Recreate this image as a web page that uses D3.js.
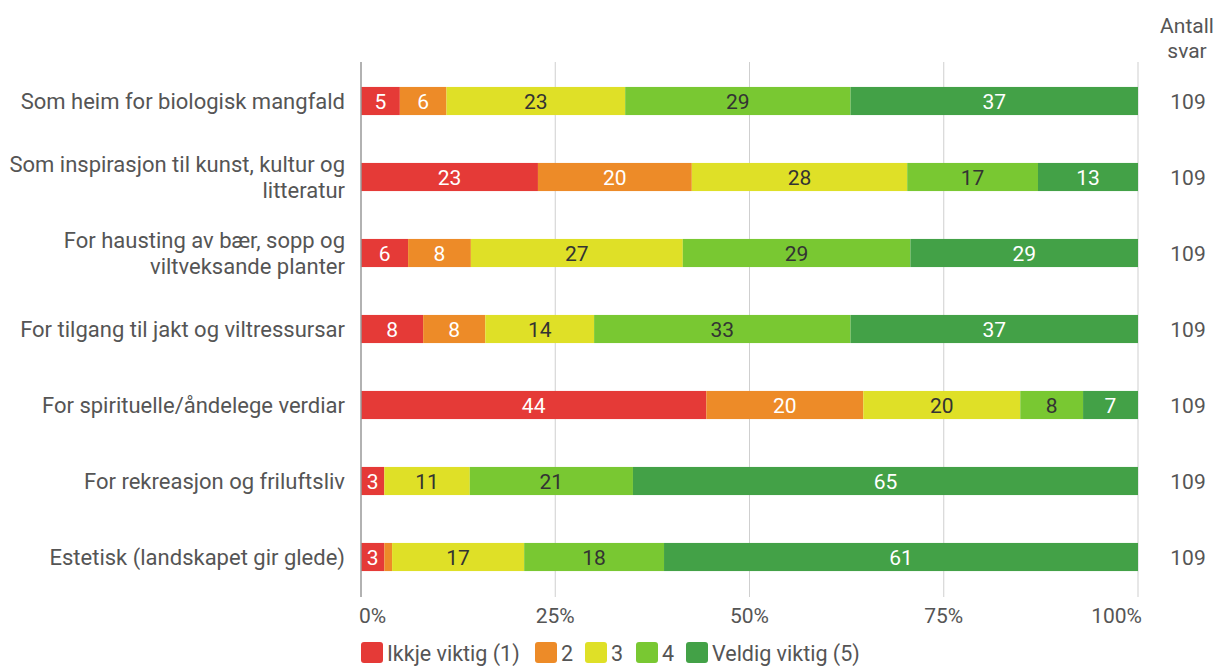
<!DOCTYPE html>
<html>
<head>
<meta charset="utf-8">
<script src="https://cdn.jsdelivr.net/npm/d3@7"></script>
<style>
  body { margin: 0; background: #fff; }
  text { font-family: Roboto, "Open Sans", sans-serif; }
</style>
</head>
<body>
<div id="chart"></div>
<script>
// categories, top to bottom
var categories = [
    ['Som heim for biologisk mangfald'],
    ['Som inspirasjon til kunst, kultur og', 'litteratur'],
    ['For hausting av bær, sopp og', 'viltveksande planter'],
    ['For tilgang til jakt og viltressursar'],
    ['For spirituelle/åndelege verdiar'],
    ['For rekreasjon og friluftsliv'],
    ['Estetisk (landskapet gir glede)']
];
var seriesNames = ['Ikkje viktig (1)', '2', '3', '4', 'Veldig viktig (5)'];
var ikkjeViktig = [5, 23, 6, 8, 44, 3, 3];
var score2 = [6, 20, 8, 8, 20, 0, 1];
var score3 = [23, 28, 27, 14, 20, 11, 17];
var score4 = [29, 17, 29, 33, 8, 21, 18];
var veldigViktig = [37, 13, 29, 37, 7, 65, 61];
var antallSvar = [109, 109, 109, 109, 109, 109, 109];
var tickValues = [0, 0.25, 0.5, 0.75, 1];

var colors = ['#e53a37', '#ed8b28', '#dfe027', '#79c832', '#43a147'];
var textColors = ['#fff', '#fff', '#333', '#333', '#fff'];

var width = 1219, height = 666;
var svg = d3.select('#chart').append('svg')
    .attr('width', width)
    .attr('height', height);

var x = d3.scaleLinear().domain([0, 1]).range([361, 1138]);
var y = d3.scaleBand().domain(d3.range(categories.length)).range([63, 595]).paddingInner(0.63).paddingOuter(0.315);

// build stacked rows (normalised to 100%)
var seriesVals = [ikkjeViktig, score2, score3, score4, veldigViktig];
var rows = categories.map(function (c, i) {
    var total = d3.sum(seriesVals, function (s) { return s[i]; });
    var acc = 0;
    return seriesVals.map(function (s, k) {
        var seg = { row: i, k: k, v: s[i], x0: acc / total, x1: (acc + s[i]) / total };
        acc += s[i];
        return seg;
    });
});

// gridlines
svg.append('g').selectAll('line')
    .data(tickValues.slice(1))
    .enter().append('line')
    .attr('x1', function (d) { return x(d); })
    .attr('x2', function (d) { return x(d); })
    .attr('y1', 62).attr('y2', 597)
    .attr('stroke', '#cfcfcf').attr('stroke-width', 1);

// tick labels: first left-aligned, last right-aligned
svg.append('g').selectAll('text')
    .data(tickValues)
    .enter().append('text')
    .attr('x', function (d) { return d === 0 ? x(d) - 2 : d === 1 ? x(d) + 4 : x(d); })
    .attr('y', 623)
    .attr('text-anchor', function (d) { return d === 0 ? 'start' : d === 1 ? 'end' : 'middle'; })
    .attr('font-size', 21)
    .attr('fill', '#555')
    .text(function (d) { return Math.round(d * 100) + '%'; });

// bars
var g = svg.append('g');
rows.forEach(function (segs) {
    var rg = g.append('g');
    rg.selectAll('rect')
        .data(segs.filter(function (d) { return d.v > 0; }))
        .enter().append('rect')
        .attr('x', function (d) { return x(d.x0); })
        .attr('width', function (d) { return x(d.x1) - x(d.x0); })
        .attr('y', function (d) { return y(d.row); })
        .attr('height', y.bandwidth())
        .attr('fill', function (d) { return colors[d.k]; });
    rg.selectAll('text')
        .data(segs.filter(function (d) { return d.v > 1; }))
        .enter().append('text')
        .attr('x', function (d) { return (x(d.x0) + x(d.x1)) / 2; })
        .attr('y', function (d) { return y(d.row) + y.bandwidth() / 2; })
        .attr('dy', '0.36em')
        .attr('text-anchor', 'middle')
        .attr('font-size', 21)
        .attr('fill', function (d) { return textColors[d.k]; })
        .text(function (d) { return d.v; });
});

// zero axis line
svg.append('line')
    .attr('x1', x(0)).attr('x2', x(0))
    .attr('y1', 62).attr('y2', 597)
    .attr('stroke', '#999').attr('stroke-width', 1.5);

// category labels
var lab = svg.append('g').selectAll('text')
    .data(categories)
    .enter().append('text')
    .attr('text-anchor', 'end')
    .attr('font-size', 22)
    .attr('fill', '#555')
    .attr('transform', function (d, i) {
        var cy = y(i) + y.bandwidth() / 2;
        return 'translate(345,' + (cy - (d.length - 1) * 13) + ')';
    });
lab.selectAll('tspan')
    .data(function (d) { return d; })
    .enter().append('tspan')
    .attr('x', 0)
    .attr('y', function (d, j) { return j * 26; })
    .attr('dy', '0.36em')
    .text(function (d) { return d; });

// Antall svar column
svg.append('text')
    .attr('x', 1187).attr('y', 33)
    .attr('text-anchor', 'middle').attr('font-size', 21).attr('fill', '#555')
    .text('Antall');
svg.append('text')
    .attr('x', 1187).attr('y', 58)
    .attr('text-anchor', 'middle').attr('font-size', 21).attr('fill', '#555')
    .text('svar');
svg.append('g').selectAll('text')
    .data(antallSvar)
    .enter().append('text')
    .attr('x', 1188)
    .attr('y', function (d, i) { return y(i) + y.bandwidth() / 2; })
    .attr('dy', '0.36em')
    .attr('text-anchor', 'middle')
    .attr('font-size', 21)
    .attr('fill', '#555')
    .text(function (d) { return d; });

// legend
var legendX = [361, 535, 585, 636, 686];
var leg = svg.append('g').selectAll('g')
    .data(seriesNames)
    .enter().append('g')
    .attr('transform', function (d, i) { return 'translate(' + legendX[i] + ',642)'; });
leg.append('rect')
    .attr('width', 22).attr('height', 21)
    .attr('rx', 3).attr('ry', 3)
    .attr('fill', function (d, i) { return colors[i]; });
leg.append('text')
    .attr('x', 26).attr('y', 11)
    .attr('dy', '0.36em')
    .attr('font-size', 21.5)
    .attr('fill', '#555')
    .text(function (d) { return d; });
</script>
</body>
</html>
